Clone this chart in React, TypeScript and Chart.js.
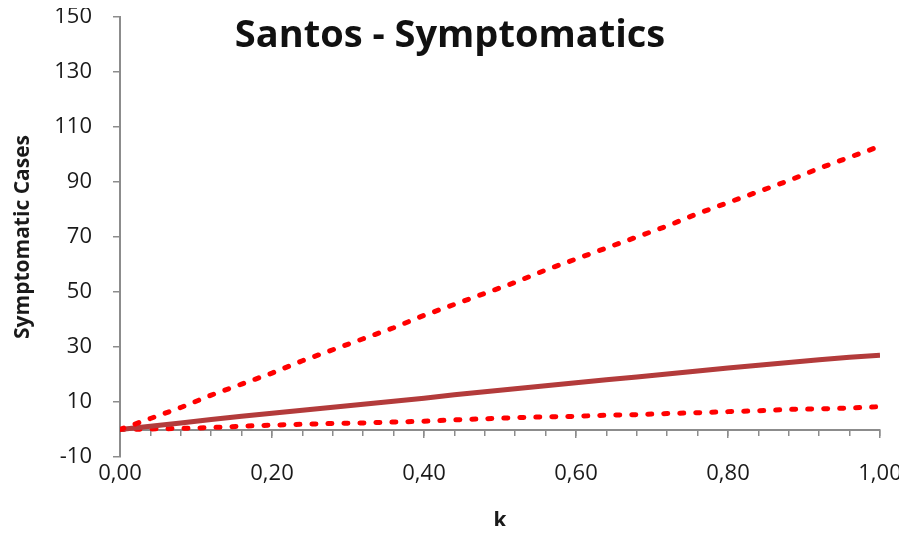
import { useEffect, useRef } from "react"
import { Chart, registerables } from "chart.js"

Chart.register(...registerables)

const chartTitle = "Santos - Symptomatics"
const yAxisTitle = "Symptomatic Cases"
const xAxisTitle = "k"

// k sampled every 0.04
const kValues = [
  0, 0.04, 0.08, 0.12, 0.16, 0.2, 0.24, 0.28, 0.32, 0.36, 0.4, 0.44, 0.48,
  0.52, 0.56, 0.6, 0.64, 0.68, 0.72, 0.76, 0.8, 0.84, 0.88, 0.92, 0.96, 1,
]

const upperBound = [
  0, 4, 8, 12.5, 16.5, 20.5, 25, 29, 33, 37, 41.5, 45.5, 49.5, 53.5, 58, 62,
  66, 70, 74, 78.5, 82.5, 86.5, 90.5, 95, 99, 103,
]

const symptomatic = [
  0, 1.2, 2.4, 3.6, 4.8, 5.9, 7, 8.1, 9.2, 10.3, 11.4, 12.6, 13.7, 14.8, 15.9,
  17, 18.1, 19.1, 20.2, 21.3, 22.4, 23.4, 24.4, 25.4, 26.3, 27,
]

const lowerBound = [
  0, 0.2, 0.4, 0.7, 1.2, 1.6, 1.9, 2.2, 2.4, 2.7, 3, 3.5, 3.9, 4.3, 4.6, 4.8,
  5.2, 5.4, 5.8, 6.1, 6.5, 6.8, 7.3, 7.5, 7.8, 8.3,
]

const xTicks = [0, 0.2, 0.4, 0.6, 0.8, 1]
const yTicks = [-10, 10, 30, 50, 70, 90, 110, 130, 150]

const axisGrey = "#8c8c8c"
const textColor = "#1a1a1a"

export default function App() {
  const canvasRef = useRef<HTMLCanvasElement | null>(null)
  const chartRef = useRef<Chart | null>(null)

  useEffect(() => {
    if (!canvasRef.current) return
    const ctx = canvasRef.current.getContext("2d")
    if (!ctx) return

    Chart.defaults.font.family = "'Open Sans', sans-serif"

    const toPoints = (ys: number[]) => kValues.map((k, i) => ({ x: k, y: ys[i] }))

    // title sits over the plot area, not above it
    const overlayTitle = {
      id: "overlayTitle",
      afterDraw(chart: Chart) {
        const c = chart.ctx
        c.save()
        c.font = "bold 38px 'Open Sans'"
        c.fillStyle = "#111"
        c.textAlign = "center"
        c.textBaseline = "alphabetic"
        c.fillText(chartTitle, 450, 47)
        c.restore()
      },
    }

    const dotted = {
      borderColor: "#ff0000",
      borderWidth: 5,
      borderDash: [4, 12],
      borderCapStyle: "round" as const,
      pointRadius: 0,
      tension: 0,
    }

    const noSidePadding = (s: any) => {
      s.paddingLeft = 0
      s.paddingRight = 0
    }

    chartRef.current = new Chart(ctx, {
      type: "line",
      data: {
        datasets: [
          { label: "Upper", data: toPoints(upperBound), ...dotted },
          {
            label: "Symptomatic",
            data: toPoints(symptomatic),
            borderColor: "#b33b3b",
            borderWidth: 5,
            pointRadius: 0,
            tension: 0,
          },
          { label: "Lower", data: toPoints(lowerBound), ...dotted },
        ],
      },
      options: {
        animation: false,
        responsive: true,
        maintainAspectRatio: false,
        layout: { padding: { top: 17, right: 27, bottom: 0, left: 0 } },
        plugins: {
          legend: { display: false },
          tooltip: { enabled: false },
        },
        scales: {
          x: {
            type: "linear",
            min: xTicks[0],
            max: xTicks[xTicks.length - 1],
            border: { display: false },
            grid: { display: false, drawTicks: false },
            afterBuildTicks: (s: any) => {
              s.ticks = xTicks.map((v) => ({ value: v }))
            },
            ticks: {
              padding: 4,
              color: textColor,
              font: { size: 22 },
              maxRotation: 0,
              autoSkip: false,
              callback: (v: any) => Number(v).toFixed(2).replace(".", ","),
            },
            title: {
              display: true,
              text: xAxisTitle,
              color: textColor,
              font: { size: 21, weight: "bold" },
              padding: { top: 0, bottom: 0 },
            },
            afterFit: (s: any) => {
              s.height = 77
              noSidePadding(s)
            },
          },
          // axis line crossing at y = 0, with minor ticks
          xMinor: {
            type: "linear",
            axis: "x",
            min: xTicks[0],
            max: xTicks[xTicks.length - 1],
            position: { y: 0 },
            border: { color: axisGrey, width: 2 },
            grid: { drawOnChartArea: false, tickLength: 5, color: axisGrey, lineWidth: 1.5 },
            ticks: { display: false },
            afterBuildTicks: (s: any) => {
              s.ticks = kValues.map((v) => ({ value: v }))
            },
            afterFit: noSidePadding,
          },
          xMajor: {
            type: "linear",
            axis: "x",
            min: xTicks[0],
            max: xTicks[xTicks.length - 1],
            position: { y: 0 },
            border: { display: false },
            grid: { drawOnChartArea: false, tickLength: 8, color: axisGrey, lineWidth: 1.5 },
            ticks: { display: false },
            afterBuildTicks: (s: any) => {
              s.ticks = xTicks.map((v) => ({ value: v }))
            },
            afterFit: noSidePadding,
          },
          y: {
            min: yTicks[0],
            max: yTicks[yTicks.length - 1],
            border: { color: axisGrey, width: 2 },
            grid: { drawOnChartArea: false, tickLength: 7, color: axisGrey, lineWidth: 1.5 },
            afterBuildTicks: (s: any) => {
              s.ticks = yTicks.map((v) => ({ value: v }))
            },
            ticks: { padding: 21, color: textColor, font: { size: 22 } },
            title: {
              display: true,
              text: yAxisTitle,
              color: textColor,
              font: { size: 21, weight: "bold" },
              padding: { top: 10, bottom: 0 },
            },
            afterFit: (s: any) => {
              s.width = 120
              s.paddingTop = 0
              s.paddingBottom = 0
            },
          },
        },
      } as any,
      plugins: [overlayTitle],
    })

    return () => {
      if (chartRef.current) {
        chartRef.current.destroy()
        chartRef.current = null
      }
    }
  }, [])

  // negative margin cancels the body's 8px so the canvas covers the whole window
  return (
    <div style={{ position: "relative", margin: -8, width: 907, height: 534 }}>
      <canvas ref={canvasRef} />
    </div>
  )
}
